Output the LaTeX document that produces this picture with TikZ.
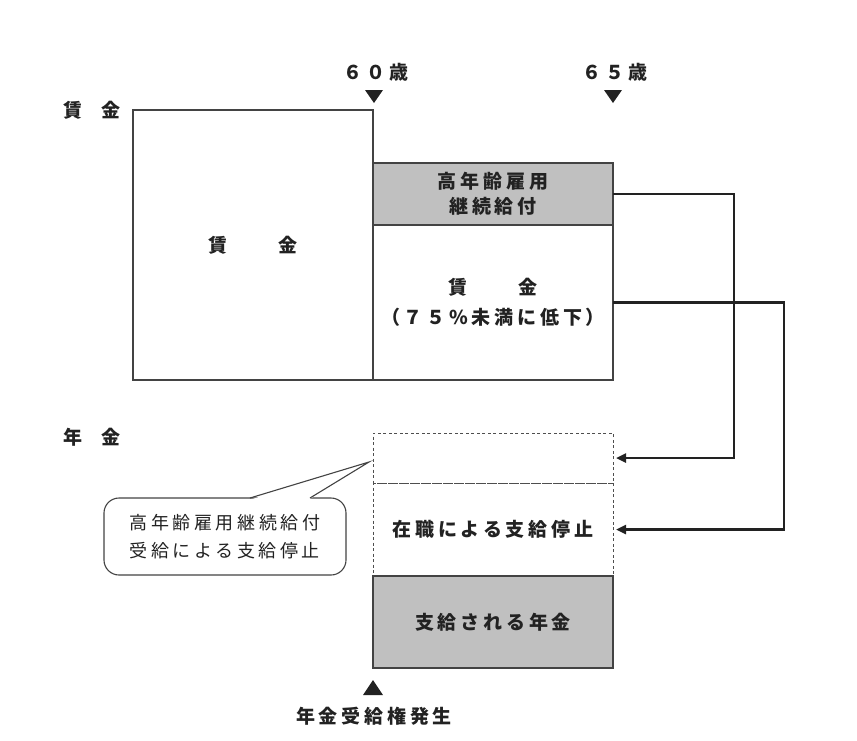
\documentclass[tikz,border=0pt]{standalone}
\usepackage{fontspec}
\setmainfont{Noto Sans CJK JP}[LetterSpace=20]
\usetikzlibrary{arrows.meta,calc}
\definecolor{boxgrey}{HTML}{C0C0C0}
\definecolor{ink}{HTML}{222222}
\begin{document}
\begin{tikzpicture}[x=1pt,y=-1pt,
  every node/.style={inner sep=0pt,outer sep=0pt,text=ink},
  lbl/.style={font=\fontsize{19}{23}\selectfont\bfseries},
  box/.style={draw=ink!85,line width=1.1pt,fill=white,font=\fontsize{19}{28}\selectfont\bfseries,align=center},
  gbox/.style={box,fill=boxgrey},
  dbox/.style={draw=ink!80,line width=0.9pt,dash pattern=on 3pt off 2.5pt,font=\fontsize{19}{28}\selectfont\bfseries,align=center},
  conn/.style={draw=ink,line width=2.4pt},
  tri/.style={fill=ink,draw=none}]
\useasboundingbox (0,0) rectangle (857,740);

% top labels
\node[lbl] (chinginlbl) at (92,110) {賃\hspace{19pt}金};
\node[lbl] (nenkinlbl) at (92,437) {年\hspace{19pt}金};
\node[lbl] (age60) at (376,72) {６０歳};
\node[lbl] (age65) at (615,72) {６５歳};
\fill[tri] (365,90) -- (383,90) -- (374,103) -- cycle;
\fill[tri] (604,90) -- (622,90) -- (613,103) -- cycle;

% wage boxes
\node[box,minimum width=240,minimum height=270] (w0) at (253,245) {賃\hspace{51pt}金};
\node[gbox,minimum width=240,minimum height=62] (hk) at (493,194) {高年齢雇用\\[-3pt]継続給付};
\node[box,minimum width=240,minimum height=155] (w1) at (493,302.5) {賃\hspace{51pt}金\\[2pt]（７５\%未満に低下）};

% pension boxes
\node[dbox,minimum width=240,minimum height=50] (d1) at (493,458) {};
\node[dbox,minimum width=240,minimum height=93] (d2) at (493,529.5) {在職による支給停止};
\node[gbox,minimum width=240,minimum height=92] (pay) at (493,622) {支給される年金};

% connectors
\draw[conn,-{Triangle[length=10pt,width=9pt]}] (hk.east) -- ++(121,0) |- ([xshift=3pt]d1.east);
\draw[conn,-{Triangle[length=10pt,width=9pt]}] (w1.east) -- ++(171,0) |- ([xshift=3pt]d2.east);

% entitlement marker
\fill[tri] (373,680) -- (383,695) -- (363,695) -- cycle;
\node[lbl] (kenri) at (374,716) {年金受給権発生};

% callout
\coordinate (tip) at (369,462);
\node[draw=ink!85,line width=1.1pt,fill=white,rounded corners=15pt,minimum width=242,minimum height=77,
      font=\fontsize{18}{28}\selectfont,align=left] (callout) at (225,536.5) {高年齢雇用継続給付\\受給による支給停止};
\fill[white] (251,499.5) -- (tip) -- (309,499.5) -- cycle;
\draw[draw=ink!85,line width=1.1pt,line join=miter] (250,498) -- (tip) -- (310,498);
\end{tikzpicture}
\end{document}
